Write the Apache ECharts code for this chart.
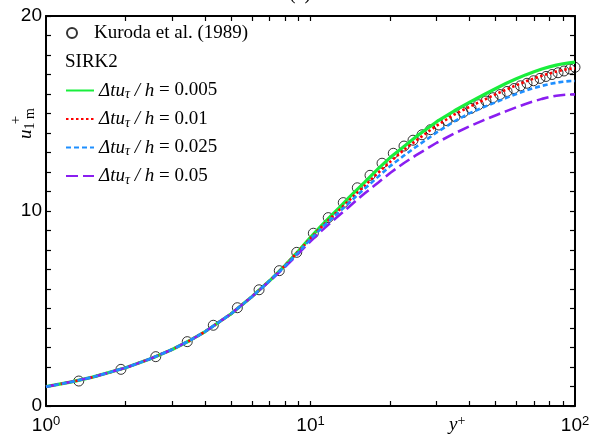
<!DOCTYPE html>
<html>
<head>
<meta charset="utf-8">
<script src="https://cdn.jsdelivr.net/npm/echarts@6.0.0/dist/echarts.min.js"></script>
<style>
html,body{margin:0;padding:0;background:#fff;}
#chart{width:603px;height:446px;}
</style>
</head>
<body>
<div id="chart"></div>
<script>
// Kuroda et al. (1989) reference data (y+, u+)
var kurodaY = [1.33,1.92,2.60,3.42,4.29,5.29,6.39,7.62,8.87,10.25,11.67,13.3,15.03,16.79,18.64,20.56,22.57,24.41,26.40,28.43,30.60,32.82,35.18,37.72,40.45,43.17,46.07,48.97,52.06,55.34,58.81,62.23,65.85,69.68,73.74,77.70,81.87,86.26,90.87,95.74,100];
var kurodaU = [1.28,1.88,2.53,3.30,4.14,5.04,5.96,6.94,7.88,8.86,9.66,10.43,11.19,11.83,12.45,12.96,13.33,13.63,13.91,14.17,14.41,14.63,14.84,15.05,15.26,15.45,15.64,15.81,15.97,16.13,16.28,16.42,16.55,16.68,16.80,16.90,17.00,17.09,17.18,17.28,17.37];

// SIRK2 profiles
var lineY = [1,1.25,1.5,2,2.5,3,3.5,4,5,6,7,8,9,10,11,12,13,14,15,16,18,20,22.5,25,30,35,40,45,50,55,60,65,70,75,80,85,90,95,100];
var u0005 = [0.99,1.24,1.48,1.96,2.44,2.90,3.36,3.82,4.72,5.60,6.42,7.20,7.95,8.65,9.25,9.78,10.24,10.70,11.10,11.47,12.16,12.74,13.30,13.80,14.58,15.14,15.58,15.95,16.27,16.55,16.78,16.98,17.14,17.28,17.39,17.48,17.55,17.60,17.63];
var u001  = [0.99,1.24,1.48,1.96,2.44,2.90,3.36,3.82,4.72,5.60,6.42,7.20,7.93,8.60,9.18,9.68,10.12,10.55,10.93,11.28,11.95,12.52,13.12,13.60,14.38,14.95,15.35,15.68,15.98,16.23,16.45,16.64,16.80,16.94,17.05,17.15,17.23,17.29,17.32];
var u0025 = [0.99,1.24,1.48,1.96,2.44,2.90,3.36,3.82,4.72,5.60,6.42,7.17,7.88,8.55,9.12,9.60,10.02,10.42,10.80,11.14,11.75,12.30,12.83,13.28,14.03,14.60,15.02,15.32,15.57,15.80,16.00,16.17,16.31,16.42,16.51,16.58,16.63,16.66,16.67];
var u005  = [0.99,1.24,1.48,1.96,2.44,2.90,3.36,3.82,4.72,5.60,6.40,7.12,7.82,8.45,8.98,9.44,9.85,10.22,10.58,10.90,11.45,11.95,12.45,12.85,13.50,13.98,14.35,14.65,14.90,15.12,15.32,15.49,15.63,15.75,15.84,15.91,15.95,15.97,15.98];

var seriesNames = ['d0.005','d0.01','d0.025','d0.05'];
var xTickValues = [2,3,4,5,6,7,8,9,10,20,30,40,50,60,70,80,90];
var yLabels = [0,10,20];

function pairs(xs, ys){ return xs.map(function(x,i){ return [x, ys[i]]; }); }

var chart = echarts.init(document.getElementById('chart'), null, {renderer:'canvas'});
var serif = 'Liberation Serif';
var sans = 'Liberation Sans';
var axisLine = {show:true, onZero:false, lineStyle:{color:'#000', width:2}};
var tickStyle = {color:'#000', width:1.2};

var legendRich = {
  i:{fontFamily:serif, fontStyle:'italic', fontSize:19, lineHeight:22, color:'#000'},
  s:{fontFamily:serif, fontStyle:'italic', fontSize:14, lineHeight:10, verticalAlign:'bottom', color:'#000'},
  n:{fontFamily:serif, fontSize:19, lineHeight:22, color:'#000'}
};

var option = {
  animation:false,
  backgroundColor:'#fff',
  grid:{left:46, right:28, top:16, bottom:40, containLabel:false},
  xAxis:[
    {type:'log', logBase:10, min:1, max:100, position:'bottom',
     axisLine:axisLine,
     axisTick:{show:true, inside:true, length:5, lineStyle:tickStyle, customValues:xTickValues},
     axisLabel:{show:true, margin:9, color:'#000',
       formatter:function(v){ return '{b|10}{e|' + Math.round(Math.log(v)/Math.LN10) + '}'; },
       rich:{b:{fontFamily:sans, fontSize:19, lineHeight:22, color:'#000'},
             e:{fontFamily:sans, fontSize:13, lineHeight:10, verticalAlign:'top', color:'#000'}}},
     splitLine:{show:false}},
    {type:'log', logBase:10, min:1, max:100, position:'top',
     axisLine:axisLine,
     axisTick:{show:true, inside:true, length:5, lineStyle:tickStyle, customValues:xTickValues},
     axisLabel:{show:false}, splitLine:{show:false}}
  ],
  yAxis:[
    {type:'value', min:0, max:20, interval:10, position:'left',
     axisLine:axisLine,
     axisTick:{show:true, inside:true, length:5, lineStyle:tickStyle},
     minorTick:{show:true, splitNumber:10, length:5, lineStyle:tickStyle},
     axisLabel:{show:true, margin:4, color:'#000', fontFamily:sans, fontSize:19,
       formatter:function(v){ return yLabels.indexOf(v) >= 0 ? String(v) : ''; }},
     splitLine:{show:false}},
    {type:'value', min:0, max:20, interval:10, position:'right',
     axisLine:axisLine,
     axisTick:{show:true, inside:true, length:5, lineStyle:tickStyle},
     minorTick:{show:true, splitNumber:10, length:5, lineStyle:tickStyle},
     axisLabel:{show:false}, splitLine:{show:false}}
  ],
  legend:[
    {orient:'vertical', left:61, top:17, itemWidth:10, itemHeight:10,
     data:['Kuroda et al. (1989)'],
     textStyle:{fontFamily:serif, fontSize:19, color:'#000', lineHeight:22, padding:[0,0,0,12]}},
    {orient:'vertical', left:60, top:76, itemWidth:28, itemHeight:14, itemGap:8,
     data:seriesNames,
     itemStyle:{opacity:0},
     formatter:function(name){ return '{i|\u0394tu}{s|\u03c4}{i| / h}{n| = ' + name.slice(1) + '}'; },
     textStyle:{color:'#000', rich:legendRich}}
  ],
  graphic:[
    {type:'text', x:300, y:4, style:{text:'(a)', font:'20px "Liberation Serif"', fill:'#000', align:'center', verticalAlign:'bottom'}},
    {type:'text', x:65, y:62, style:{text:'SIRK2', font:'19px "Liberation Serif"', fill:'#000', align:'left', verticalAlign:'middle'}},
    {type:'text', x:449, y:414, style:{text:'{y|y}{p|+}', fill:'#000',
      rich:{y:{fontFamily:serif, fontStyle:'italic', fontSize:19, lineHeight:22},
            p:{fontFamily:serif, fontSize:14, lineHeight:12, verticalAlign:'top'}}}},
    {type:'text', x:37, y:139, rotation:Math.PI/2, style:{text:'{u|u}{s|1 m}', fill:'#000', align:'left', verticalAlign:'bottom',
      rich:{u:{fontFamily:serif, fontStyle:'italic', fontSize:19, lineHeight:22},
            s:{fontFamily:serif, fontSize:14, lineHeight:10, verticalAlign:'bottom'}}}},
    {type:'text', x:16, y:120, rotation:Math.PI/2, style:{text:'+', font:'15px "Liberation Serif"', fill:'#000', align:'center', verticalAlign:'middle'}}
  ],
  series:[
    {name:'Kuroda et al. (1989)', type:'scatter', xAxisIndex:0, yAxisIndex:0,
     data:pairs(kurodaY, kurodaU), symbol:'circle', symbolSize:10, clip:false,
     itemStyle:{color:'rgba(0,0,0,0)', borderColor:'#000', borderWidth:1}, z:2},
    {name:'d0.005', type:'line', data:pairs(lineY,u0005), showSymbol:false, symbol:'none', smooth:false,
     lineStyle:{color:'#19ee3c', width:3.2, type:'solid'}, itemStyle:{color:'#19ee3c'}, z:3},
    {name:'d0.01', type:'line', data:pairs(lineY,u001), showSymbol:false, symbol:'none',
     lineStyle:{color:'#ff0000', width:2.6, type:[2.5,2.5]}, itemStyle:{color:'#ff0000'}, z:4},
    {name:'d0.025', type:'line', data:pairs(lineY,u0025), showSymbol:false, symbol:'none',
     lineStyle:{color:'#1e8fff', width:2.6, type:[5,3]}, itemStyle:{color:'#1e8fff'}, z:6},
    {name:'d0.05', type:'line', data:pairs(lineY,u005), showSymbol:false, symbol:'none',
     lineStyle:{color:'#8a1ef0', width:2.6, type:[12,5]}, itemStyle:{color:'#8a1ef0'}, z:5}
  ]
};
chart.setOption(option);
</script>
</body>
</html>
